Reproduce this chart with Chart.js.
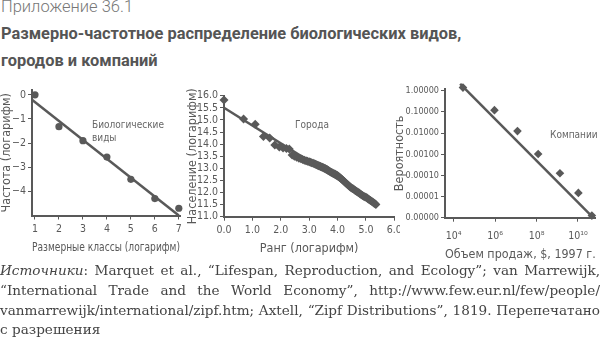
<!DOCTYPE html>
<html>
<head>
<meta charset="utf-8">
<script src="https://cdn.jsdelivr.net/npm/chart.js@4.4.1/dist/chart.umd.min.js"></script>
<style>
body { margin: 0; width: 600px; height: 337px; position: relative; overflow: hidden; background: #fff; }
canvas { position: absolute; }
#sup { position: absolute; left: 1px; top: -3px; font: 300 16.5px Roboto, sans-serif; color: #777; }
#ttl { position: absolute; left: 1px; top: 20px; font: bold 16.4px Roboto, sans-serif; color: #555; line-height: 27px; }
.note { position: absolute; font: 10px "DejaVu Sans Condensed", sans-serif; color: #666; line-height: 13px; }
#src { position: absolute; left: 0; top: 261px; width: 600px; font: 13.6px "DejaVu Serif", serif; color: #444; line-height: 19.8px; }
#src span { display: block; text-align: justify; text-align-last: justify; white-space: nowrap; }
#src span.last { text-align-last: left; }
</style>
</head>
<body>
<div id="sup">Приложение 36.1</div>
<div id="ttl">Размерно-частотное распределение биологических видов,<br>городов и компаний</div>

<canvas id="bio" width="195" height="182" style="left:0;top:80px"></canvas>
<canvas id="city" width="217" height="182" style="left:183px;top:80px"></canvas>
<canvas id="firm" width="210" height="182" style="left:390px;top:80px"></canvas>

<div class="note" style="left:92px;top:118px">Биологические<br>виды</div>
<div class="note" style="left:295px;top:118px">Города</div>
<div class="note" style="left:550px;top:128px">Компании</div>

<div id="src">
<span><i>Источники</i>: Marquet et al., “Lifespan, Reproduction, and Ecology”; van Marrewijk,</span>
<span>“International Trade and the World Economy”, http://www.few.eur.nl/few/people/</span>
<span>vanmarrewijk/international/zipf.htm; Axtell, “Zipf Distributions”, 1819. Перепечатано</span>
<span class="last">с разрешения</span>
</div>

<script>
// species: size class vs frequency (both log)
var bioClass = [1, 2, 3, 4, 5, 6, 7];
var bioFreq = [0.0, -1.32, -1.9, -2.58, -3.5, -4.3, -4.7];
var bioFitX = [0.875, 7];
var bioFitY = [-0.2, -5];
var bioTicksX = [1, 2, 3, 4, 5, 6, 7];
var bioTicksY = [-4, -3, -2, -1, 0];

// cities: rank vs population (both log)
var cityRank = [0.00, 0.69, 1.10, 1.39, 1.61, 1.79, 1.95, 2.08, 2.20, 2.30,
    2.40, 2.48, 2.56, 2.64, 2.71, 2.77, 2.83, 2.89, 2.94, 3.00,
    3.04, 3.09, 3.14, 3.18, 3.22, 3.26, 3.30, 3.33, 3.37, 3.40,
    3.43, 3.47, 3.50, 3.53, 3.56, 3.58, 3.61, 3.64, 3.66, 3.69,
    3.72, 3.76, 3.80, 3.84, 3.88, 3.92, 3.96, 4.00, 4.04, 4.08,
    4.12, 4.16, 4.20, 4.24, 4.28, 4.32, 4.36, 4.40, 4.44, 4.48,
    4.52, 4.56, 4.60, 4.64, 4.68, 4.72, 4.76, 4.80, 4.84, 4.88,
    4.92, 4.96, 5.00, 5.04, 5.08, 5.12, 5.16, 5.20, 5.24, 5.28,
    5.32, 5.35];
var cityPop = [15.82, 15.04, 14.82, 14.31, 14.25, 13.96, 13.88, 13.84, 13.82, 13.80,
    13.55, 13.50, 13.46, 13.42, 13.39, 13.36, 13.33, 13.31, 13.29, 13.27,
    13.25, 13.23, 13.21, 13.19, 13.17, 13.15, 13.13, 13.11, 13.09, 13.07,
    13.05, 13.04, 13.02, 13.00, 12.99, 12.97, 12.96, 12.94, 12.92, 12.90,
    12.88, 12.85, 12.83, 12.80, 12.77, 12.75, 12.72, 12.70, 12.66, 12.62,
    12.58, 12.54, 12.50, 12.45, 12.40, 12.36, 12.32, 12.28, 12.24, 12.20,
    12.17, 12.14, 12.10, 12.07, 12.04, 12.01, 11.98, 11.94, 11.91, 11.88,
    11.85, 11.82, 11.80, 11.77, 11.73, 11.70, 11.67, 11.64, 11.61, 11.57,
    11.53, 11.50];
var cityFitX = [0, 5.35];
var cityFitY = [15.5, 11.57];
var cityTicksX = [0, 1, 2, 3, 4, 5, 6];
var cityTicksY = [11, 11.5, 12, 12.5, 13, 13.5, 14, 14.5, 15, 15.5, 16];

// firms: sales vs probability (log-log)
var firmSales = [2.8e4, 9.3e5, 1.2e7, 1.2e8, 1.35e9, 1.05e10, 4.7e10];
var firmProb = [1.4, 0.12, 0.0123, 0.00102, 0.000126, 0.0000148, 0.00000126];
var firmFitX = [2.05e4, 5.0e10];
var firmFitY = [2.1, 1.1e-6];
var firmTicksX = [1e4, 1e6, 1e8, 1e10];
var firmTicksY = [1e-6, 1e-5, 1e-4, 1e-3, 1e-2, 1e-1, 1];
var supers = { 4: '⁴', 6: '⁶', 8: '⁸', 10: '¹⁰' };

var ink = '#595959';
var narrow = '"DejaVu Sans Condensed", sans-serif';

function pts(xs, ys) {
    return xs.map(function (x, i) { return { x: x, y: ys[i] }; });
}

function scaleOpts(o) {
    var s = {
        type: o.type || 'linear',
        min: o.min,
        max: o.max,
        grid: { drawOnChartArea: false, drawTicks: true, tickLength: 4, color: ink, lineWidth: 1 },
        border: { display: true, color: ink, width: 2 },
        ticks: { color: ink, font: { family: narrow, size: o.tickSize || 10.5 }, padding: o.tickPad || 2,
            autoSkip: false, maxRotation: 0, callback: o.fmt },
        title: { display: true, text: o.title, color: ink, font: { family: narrow, size: 12.5, lineHeight: 1 },
            padding: o.titlePad },
        afterFit: function (sc) {
            if (o.width) sc.width = o.width;
            if (o.height) sc.height = o.height;
            sc.paddingLeft = 0; sc.paddingRight = 0; sc.paddingTop = 0; sc.paddingBottom = 0;
        }
    };
    if (o.ticks) {
        s.afterBuildTicks = function (sc) {
            sc.ticks = o.ticks.map(function (v) { return { value: v }; });
        };
    }
    return s;
}

function makeChart(id, marker, radius, data, fit, pad, xs, ys) {
    return new Chart(document.getElementById(id), {
        type: 'scatter',
        data: {
            datasets: [{
                data: fit, showLine: true, borderColor: ink, borderWidth: 2.5,
                pointRadius: 0, clip: false, order: 2
            }, {
                data: data, pointStyle: marker, pointRadius: radius, backgroundColor: ink,
                borderColor: ink, borderWidth: 0, clip: false, order: 1
            }]
        },
        options: {
            responsive: false,
            animation: false,
            layout: { padding: pad },
            plugins: { legend: { display: false }, tooltip: { enabled: false } },
            scales: { x: scaleOpts(xs), y: scaleOpts(ys) }
        }
    });
}

function minus(v) { return v < 0 ? '\u2212' + Math.abs(v) : '' + v; }

makeChart('bio', 'circle', 3.6, pts(bioClass, bioFreq), pts(bioFitX, bioFitY),
    { top: 10, right: 15, left: 0, bottom: 0 },
    { min: 0.875, max: 7.05, ticks: bioTicksX, fmt: function (v) { return v; }, tickPad: 3,
      title: 'Размерные классы (логарифм)', titlePad: { bottom: 8 }, height: 46.5 },
    { min: -5, max: 0.2, ticks: bioTicksY, fmt: minus,
      title: 'Частота (логарифм)', titlePad: { top: 0 }, width: 32 });

makeChart('city', 'rectRot', 4.5, pts(cityRank, cityPop), pts(cityFitX, cityFitY),
    { top: 15.7, right: 5.7, left: 0, bottom: 0 },
    { min: 0, max: 6, ticks: cityTicksX, fmt: function (v) { return v.toFixed(1); }, tickPad: 3,
      title: 'Ранг (логарифм)', titlePad: { bottom: 7 }, height: 45.3 },
    { min: 11, max: 16, ticks: cityTicksY, fmt: function (v) { return v.toFixed(1); },
      title: 'Население (логарифм)', titlePad: { top: 3 }, width: 41 });

makeChart('firm', 'rectRot', 4.3, pts(firmSales, firmProb), pts(firmFitX, firmFitY),
    { top: 9, right: 0, left: 0, bottom: 0 },
    { type: 'logarithmic', min: 3.8e3, max: 7.2e10, ticks: firmTicksX, tickPad: 8,
      fmt: function (v) { return '10' + supers[Math.round(Math.log10(v))]; },
      title: 'Объем продаж, $, 1997 г.', titlePad: { bottom: 1 }, height: 44.3 },
    { type: 'logarithmic', min: 1e-6, max: 1.2, ticks: firmTicksY, tickSize: 9,
      fmt: function (v) { return v.toFixed(5); },
      title: 'Вероятность', titlePad: { top: 3 }, width: 55 });
</script>
</body>
</html>
